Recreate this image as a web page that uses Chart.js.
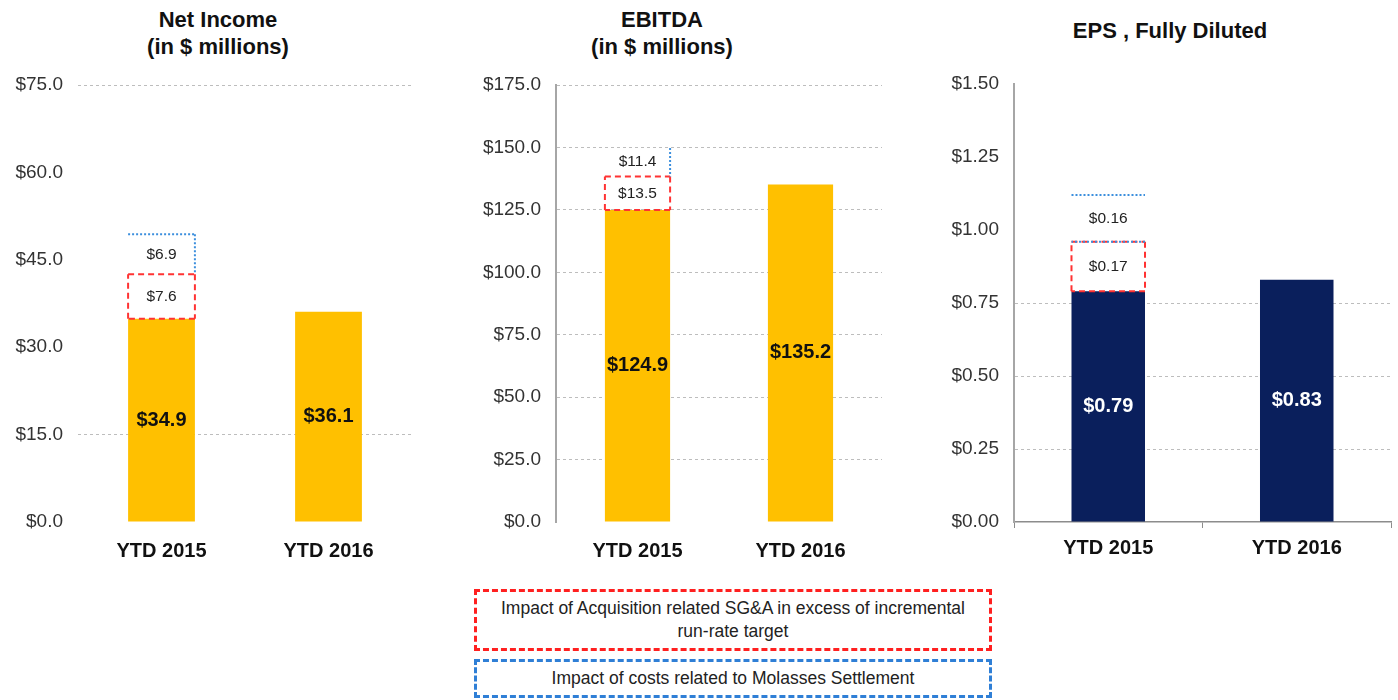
<!DOCTYPE html>
<html>
<head>
<meta charset="utf-8">
<script src="https://cdn.jsdelivr.net/npm/chart.js@4.4.0/dist/chart.umd.min.js"></script>
<style>
  body { margin: 0; background: #fff; font-family: "Liberation Sans", Arial, sans-serif; }
  #page { position: relative; width: 1398px; height: 700px; overflow: hidden; }
  .box { position: absolute; }
  .title { position: absolute; font-weight: bold; font-size: 22px; color: #111; text-align: center; line-height: 27px; }
  .legend { position: absolute; left: 474px; width: 518px; text-align: center; font-size: 17.5px; color: #222; box-sizing: border-box; }
</style>
</head>
<body>
<div id="page">
  <div class="title" style="left:68px;width:300px;top:6px;">Net Income<br>(in $ millions)</div>
  <div class="title" style="left:512px;width:300px;top:6px;">EBITDA<br>(in $ millions)</div>
  <div class="title" style="left:1020px;width:300px;top:17px;">EPS , Fully Diluted</div>

  <div class="box" style="left:0;top:0;width:420px;height:570px;"><canvas id="niChart"></canvas></div>
  <div class="box" style="left:440px;top:0;width:460px;height:570px;"><canvas id="ebitdaChart"></canvas></div>
  <div class="box" style="left:920px;top:0;width:478px;height:570px;"><canvas id="epsChart"></canvas></div>

  <div class="legend" style="top:589px;height:62px;border:3px dashed #FF2020;padding-top:5px;line-height:23px;">Impact of Acquisition related SG&amp;A in excess of incremental<br>run-rate target</div>
  <div class="legend" style="top:659px;height:39px;border:3px dashed #2F7FD6;line-height:33px;">Impact of costs related to Molasses Settlement</div>
</div>

<script>
// Categorieen
const periods = ["YTD 2015", "YTD 2016"];

// Net Income (in $ millions)
const niBase = [34.9, 36.1];
const niAcquisition = [7.6, null];
const niMolasses = [6.9, null];

// EBITDA (in $ millions)
const ebitdaBase = [124.9, 135.2];
const ebitdaAcquisition = [13.5, null];
const ebitdaMolasses = [11.4, null];

// EPS, fully diluted
const epsBase = [0.79, 0.83];
const epsAcquisition = [0.17, null];
const epsMolasses = [0.16, null];

const font = "'Liberation Sans', Arial, sans-serif";
const orange = "#FFC000";
const navy = "#0A1F5C";
const red = "#FF3333";
const blue = "#3C8FDD";

// stippelranden en waardelabels op de balken
const overlayPlugin = {
    id: "overlay",
    afterDatasetsDraw(chart) {
        const ctx = chart.ctx;
        chart.data.datasets.forEach((ds, i) => {
            const meta = chart.getDatasetMeta(i);
            meta.data.forEach((bar, j) => {
                const v = ds.data[j];
                if (v == null) return;
                const p = bar.getProps(["x", "y", "base", "width"], true);
                const l = p.x - p.width / 2, r = p.x + p.width / 2;
                const t = Math.min(p.y, p.base), b = Math.max(p.y, p.base);
                if (ds.outline) {
                    ctx.save();
                    ctx.strokeStyle = ds.outline.color;
                    ctx.lineWidth = 2;
                    ctx.setLineDash(ds.outline.dash);
                    ctx.beginPath();
                    const sides = ds.outline.sides;
                    if (sides.includes("top")) { ctx.moveTo(l, t); ctx.lineTo(r, t); }
                    if (sides.includes("right")) { ctx.moveTo(r, t); ctx.lineTo(r, b); }
                    if (sides.includes("bottom")) { ctx.moveTo(r, b); ctx.lineTo(l, b); }
                    if (sides.includes("left")) { ctx.moveTo(l, b); ctx.lineTo(l, t); }
                    ctx.stroke();
                    ctx.restore();
                }
                ctx.save();
                ctx.font = ds.labelFont;
                ctx.fillStyle = ds.labelColor;
                ctx.textAlign = "center";
                ctx.textBaseline = "middle";
                ctx.fillText("$" + v.toFixed(chart.options.decimals), p.x, (t + b) / 2);
                ctx.restore();
            });
        });
    }
};

function makeChart(id, opts) {
    const datasets = [
        {
            data: opts.base, backgroundColor: opts.barColor,
            labelFont: "bold 20px " + font, labelColor: opts.labelColor
        },
        {
            data: opts.acquisition, backgroundColor: "rgba(0,0,0,0)",
            labelFont: "15.5px " + font, labelColor: "#222",
            outline: { color: red, dash: [6, 4], sides: ["top", "right", "bottom", "left"] }
        },
        {
            data: opts.molasses, backgroundColor: "rgba(0,0,0,0)",
            labelFont: "15.5px " + font, labelColor: "#222",
            outline: { color: blue, dash: [2, 2], sides: opts.blueSides }
        }
    ];
    datasets.forEach(d => {
        d.barPercentage = opts.barPct;
        d.categoryPercentage = 1;
        d.borderWidth = 0;
    });

    return new Chart(document.getElementById(id), {
        type: "bar",
        data: { labels: periods, datasets: datasets },
        plugins: [overlayPlugin],
        options: {
            decimals: opts.decimals,
            responsive: true,
            maintainAspectRatio: false,
            animation: false,
            layout: { padding: { top: opts.top, right: opts.right, bottom: 8, left: 0 } },
            plugins: { legend: { display: false }, tooltip: { enabled: false }, title: { display: false } },
            scales: {
                x: {
                    stacked: true,
                    afterFit: s => { s.height = 40; },
                    grid: {
                        display: opts.xAxis, drawOnChartArea: false, offset: true,
                        color: "#8C8C8C", tickLength: 6
                    },
                    border: { display: opts.xAxis, color: "#8C8C8C", width: 1.5 },
                    ticks: {
                        padding: opts.xAxis ? 8 : 11,
                        color: "#111",
                        font: { family: font, size: 20, weight: "bold" }
                    }
                },
                y: {
                    stacked: true,
                    min: 0,
                    max: opts.max,
                    afterFit: s => { s.width = opts.yWidth; },
                    grid: {
                        drawTicks: false,
                        lineWidth: 1,
                        color: c => opts.gridShown.includes(+c.tick.value.toFixed(2)) ? "#BDBDBD" : "rgba(0,0,0,0)"
                    },
                    border: { display: opts.yAxis, color: "#A6A6A6", width: 2, dash: [3, 3] },
                    ticks: {
                        stepSize: opts.step,
                        padding: 15,
                        color: "#333",
                        font: { family: font, size: 19 },
                        callback: v => "$" + Number(v).toFixed(opts.decimals)
                    }
                }
            }
        }
    });
}

makeChart("niChart", {
    base: niBase, acquisition: niAcquisition, molasses: niMolasses,
    barColor: orange, labelColor: "#111", blueSides: ["top", "right"],
    barPct: 0.4, decimals: 1, max: 75, step: 15,
    gridShown: [15, 75], yAxis: false, xAxis: false,
    top: 85, right: 8, yWidth: 78
});

makeChart("ebitdaChart", {
    base: ebitdaBase, acquisition: ebitdaAcquisition, molasses: ebitdaMolasses,
    barColor: orange, labelColor: "#111", blueSides: ["right"],
    barPct: 0.4, decimals: 1, max: 175, step: 25,
    gridShown: [25, 50, 75, 100, 125, 150, 175], yAxis: true, xAxis: false,
    top: 85, right: 18, yWidth: 116
});

makeChart("epsChart", {
    base: epsBase, acquisition: epsAcquisition, molasses: epsMolasses,
    barColor: navy, labelColor: "#fff", blueSides: ["top", "bottom"],
    barPct: 0.39, decimals: 2, max: 1.5, step: 0.25,
    gridShown: [0.25, 0.5, 0.75], yAxis: true, xAxis: true,
    top: 84, right: 7, yWidth: 94
});
</script>
</body>
</html>
